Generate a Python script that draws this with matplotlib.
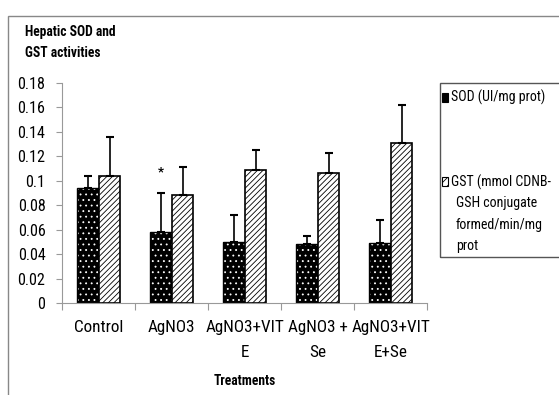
import numpy as np
import matplotlib.pyplot as plt
from matplotlib import font_manager as fm
from matplotlib.patches import Rectangle

# pick a condensed font (Calibri-like look), scale sizes to match widths
names = {f.name for f in fm.fontManager.ttflist}
dv_cond = any(f.name == 'DejaVu Sans' and f.stretch == 'condensed' for f in fm.fontManager.ttflist)
if 'Liberation Sans Narrow' in names:
    fam, k, stretch = 'Liberation Sans Narrow', 1.0, 'normal'
elif 'Roboto Condensed' in names:
    fam, k, stretch = 'Roboto Condensed', 0.93, 'normal'
elif dv_cond:
    fam, k, stretch = 'DejaVu Sans', 0.88, 'condensed'
else:
    fam, k, stretch = 'Lato', 0.8, 'normal'
plt.rcParams['font.family'] = [fam, 'DejaVu Sans']
plt.rcParams['font.stretch'] = stretch
plt.rcParams['hatch.linewidth'] = 0.6

# data
treatments = [['Control'], ['AgNO3'], ['AgNO3+VIT', 'E'], ['AgNO3 +', 'Se'], ['AgNO3+VIT', 'E+Se']]
sod = [0.094, 0.058, 0.050, 0.048, 0.049]
sod_err = [0.010, 0.032, 0.022, 0.007, 0.019]
gst = [0.104, 0.088, 0.109, 0.106, 0.131]
gst_err = [0.032, 0.023, 0.016, 0.017, 0.031]

fig = plt.figure(figsize=(5.59, 3.95), dpi=100)
ax = fig.add_axes([0.111, 0.233, 0.653, 0.557])

x = np.arange(len(treatments))
w = 0.3
# SOD: black with white dots
ax.bar(x - w/2, sod, w, color='black', edgecolor='white', hatch='...', linewidth=0)
ax.bar(x - w/2, sod, w, color='none', edgecolor='black', linewidth=1)
ax.errorbar(x - w/2, sod, yerr=[np.zeros(5), sod_err], fmt='none', ecolor='black',
            elinewidth=1.2, capsize=3, capthick=1.5)
# GST: white with diagonal hatch
ax.bar(x + w/2, gst, w, color='white', edgecolor='black', hatch='//////', linewidth=1.2)
ax.errorbar(x + w/2, gst, yerr=[np.zeros(5), gst_err], fmt='none', ecolor='black',
            elinewidth=1.2, capsize=3, capthick=1.5)

ax.text(x[1] - w/2, 0.1075, '*', ha='center', va='center', fontsize=9.5, fontweight='bold')

ax.set_xlim(-0.5, 4.5)
ax.set_ylim(0, 0.18)
ax.set_yticks(np.arange(0, 0.181, 0.02))
ax.set_yticklabels(['0', '0.02', '0.04', '0.06', '0.08', '0.1', '0.12', '0.14', '0.16', '0.18'])
ax.set_xticks(np.arange(-0.5, 4.6, 1))
ax.set_xticklabels([])
ax.tick_params(axis='x', which='major', length=5, color='#999999')
ax.tick_params(axis='y', labelsize=12.5 * k, length=4, color='#999999', pad=8)
for s in ['top', 'right']:
    ax.spines[s].set_visible(False)
ax.spines['left'].set_color('#999999')
ax.spines['bottom'].set_color('#999999')

# category labels, line by line
tr = ax.get_xaxis_transform()
for xi, lines in zip(x, treatments):
    for j, line in enumerate(lines):
        ax.text(xi, (303 - (328 + 25 * j)) / 220, line, transform=tr, ha='center', va='center',
                fontsize=13.3 * k, clip_on=False)
ax.text(0.5, (303 - 381) / 220, 'Treatments', transform=ax.transAxes, ha='center', va='center',
        fontweight='bold', fontsize=10.5 * k)

# title
fig.text(25/559, 1 - 32/395, 'Hepatic SOD and', fontweight='bold', fontsize=10.5 * k,
         va='center', ha='left')
fig.text(25/559, 1 - 53/395, 'GST activities', fontweight='bold', fontsize=10.5 * k,
         va='center', ha='left')

# outer frame
fig.patches.append(Rectangle((8/559, -0.05), 1.1, 1 - 16/395 + 0.05, transform=fig.transFigure,
                             fill=False, edgecolor='#888888', linewidth=1))

# legend box
lx0, ly0 = 440/559, 1 - 257/395
fig.patches.append(Rectangle((lx0, ly0), 0.3, (257 - 83)/395, transform=fig.transFigure,
                             fill=False, edgecolor='#555555', linewidth=1))
fig.patches.append(Rectangle((442/559, 1 - 102/395), 6/559, 9/395, transform=fig.transFigure,
                             facecolor='black', edgecolor='black', linewidth=0.8))
fig.patches.append(Rectangle((442/559, 1 - 186/395), 6/559, 9/395, transform=fig.transFigure,
                             facecolor='white', edgecolor='black', hatch='////', linewidth=0.8))
lfs = 10.8 * k
fig.text(451/559, 1 - 97/395, 'SOD (UI/mg prot)', fontsize=lfs, va='center', ha='left')
gst_lines = ['GST (mmol CDNB-', 'GSH conjugate', 'formed/min/mg', 'prot']
for j, line in enumerate(gst_lines):
    fig.text(451/559 if j == 0 else 456/559, 1 - (182 + 21.3 * j)/395, line,
             fontsize=lfs, va='center', ha='left')

fig.savefig('out.png', dpi=100)
